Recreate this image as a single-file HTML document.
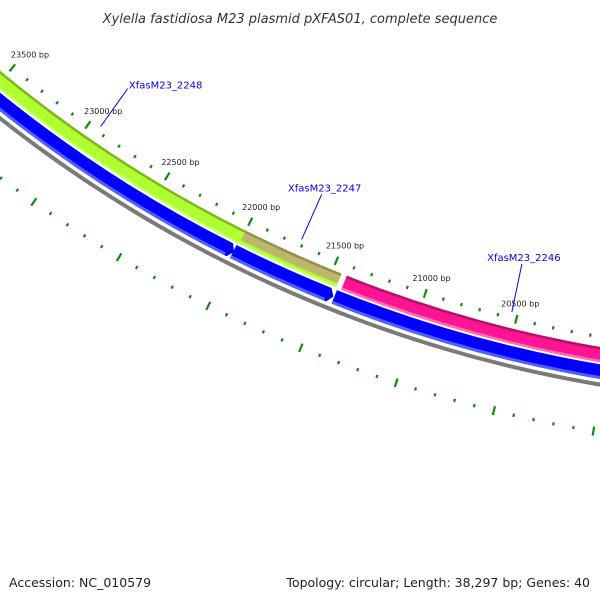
<!DOCTYPE html>
<html><head><meta charset="utf-8"><style>
html,body{margin:0;padding:0;background:#fff;}
#wrap{position:relative;width:600px;height:600px;overflow:hidden;font-family:"Liberation Sans","DejaVu Sans",sans-serif;}
svg{position:absolute;left:0;top:0;}
</style></head><body>
<div id="wrap">
<svg id="map" width="600" height="600" viewBox="0 0 600 600">
<text x="300" y="23" text-anchor="middle" font-size="13" font-style="italic" fill="#333" font-family="'DejaVu Sans','Liberation Sans',sans-serif">Xylella fastidiosa M23 plasmid pXFAS01, complete sequence</text>
<text x="9" y="587" font-size="12.5" fill="#222" font-family="'DejaVu Sans','Liberation Sans',sans-serif">Accession: NC_010579</text>
<text x="590" y="587" text-anchor="end" font-size="12.5" fill="#222" font-family="'DejaVu Sans','Liberation Sans',sans-serif">Topology: circular; Length: 38,297 bp; Genes: 40</text>
<g id="ticks"></g>
<g id="features"></g>
<g id="labels"></g>
</svg>
</div>
<script>
const tickMajors = [20500, 21000, 21500, 22000, 22500, 23000, 23500];
const tickLabels = ["20500 bp","21000 bp","21500 bp","22000 bp","22500 bp","23000 bp","23500 bp"];
const featNames = ["XfasM23_2248","XfasM23_2247","XfasM23_2246","blue-1","blue-2","blue-3"];
const featStarts = [24500, 22000, 21420, 24500, 22010, 21440];
const featEnds = [21450, 21450, 19000, 22030, 21470, 19000];
const geneLabelNames = ["XfasM23_2248","XfasM23_2247","XfasM23_2246"];
const geneLabelBp = [22939, 21714, 20532];

const cx = 820, cy = -920;
const NS = "http://www.w3.org/2000/svg";
function ang(bp){ return (129.27 + (bp - 23500) * 0.0085) * Math.PI / 180; }
function pt(r, bp){ const a = ang(bp); return [cx + r*Math.cos(a), cy + r*Math.sin(a)]; }
function f(p){ return p[0].toFixed(2)+","+p[1].toFixed(2); }
function band(r1, r2, b1, b2, tipLen){
  const p1 = pt(r1,b1), p2 = pt(r1,b2), p3 = pt(r2,b2), p4 = pt(r2,b1);
  let d = "M"+f(p1)+" A"+r1+" "+r1+" 0 0 0 "+f(p2);
  if (tipLen){ const tb = b2 - tipLen; d += " L"+f(pt((r1+r2)/2, tb)); }
  d += " L"+f(p3)+" A"+r2+" "+r2+" 0 0 1 "+f(p4)+" Z";
  return d;
}
function mk(tag, attrs, parent){ const e = document.createElementNS(NS, tag); for (const k in attrs) e.setAttribute(k, attrs[k]); parent.appendChild(e); return e; }

const tg = document.getElementById("ticks");
const bb = mk("path", {d: band(1321, 1325, 25500, 18000, 0), fill: "#7a7a7a"}, tg);


for (let bp = 19000; bp <= 24500; bp += 100){
  const major = bp % 500 === 0;
  const rings = [1276, 1370];
  for (const rc of rings){
    const h = major ? 4.5 : 1.6;
    const a = pt(rc - h, bp), b = pt(rc + h, bp);
    const ln = mk("line", {x1:a[0], y1:a[1], x2:b[0], y2:b[1], stroke:"#118811", "stroke-width": 2.2}, tg);
    
    
  }
}
tickMajors.forEach((bp, i) => {
  const p = pt(1264, bp);
  const t = mk("text", {x: p[0] - 18 + (bp - 20500) * 0.003, y: p[1]-1, "font-size": 8, fill: "#222", "text-anchor": "start", "font-family": "'DejaVu Sans','Liberation Sans',sans-serif"}, tg);
  t.textContent = tickLabels[i];
  
  
});

const fg = document.getElementById("features");
let e;
e = mk("path", {d: band(1286, 1301, featStarts[0], featEnds[0], 0), fill: "#adff2f"}, fg);


mk("path", {d: band(1286, 1288.5, featStarts[0], featEnds[0], 0), fill: "#7fb61e"}, fg);
mk("path", {d: band(1299, 1301, featStarts[0], featEnds[0], 0), fill: "#ccff88"}, fg);
e = mk("path", {d: band(1286, 1296.5, featStarts[1], featEnds[1], 0), fill: "#bdb76b"}, fg);


mk("path", {d: band(1286, 1288.5, featStarts[1], featEnds[1], 0), fill: "#969050"}, fg);
e = mk("path", {d: band(1286, 1301, featStarts[2], featEnds[2], 0), fill: "#ff1493"}, fg);


mk("path", {d: band(1286, 1288.5, featStarts[2], featEnds[2], 0), fill: "#b8106a"}, fg);
mk("path", {d: band(1298.5, 1301, featStarts[2], featEnds[2], 0), fill: "#ff6eb8"}, fg);
for (let i = 3; i < 6; i++){
  const tip = i === 5 ? 0 : 25;
  e = mk("path", {d: band(1303, 1317.5, featStarts[i], featEnds[i], tip), fill: "#0000ff"}, fg);
  
  
  const l = mk("path", {d: band(1314.5, 1317.5, featStarts[i], featEnds[i]+ (tip?12:0), 0), fill: "#5060ff"}, fg);
  
  
}

const lg = document.getElementById("labels");
const labelOffsets = [[27, -38], [20, -45], [10, -48]];
const textOffsets = [[38, 0], [3, -3], [2, -3]];
geneLabelNames.forEach((name, i) => {
  const p = pt(1270, geneLabelBp[i]);
  const q = [p[0] + labelOffsets[i][0], p[1] + labelOffsets[i][1]];
  const ln = mk("line", {x1: p[0], y1: p[1], x2: q[0], y2: q[1], stroke: "#0000ee", "stroke-width": 1}, lg);
  
  
  const t = mk("text", {x: q[0] + textOffsets[i][0], y: q[1] + textOffsets[i][1], "font-size": 10, fill: "#0000ee", "text-anchor": "middle", "font-family": "'DejaVu Sans','Liberation Sans',sans-serif"}, lg);
  t.textContent = name;
  
  
});
</script>
</body></html>
